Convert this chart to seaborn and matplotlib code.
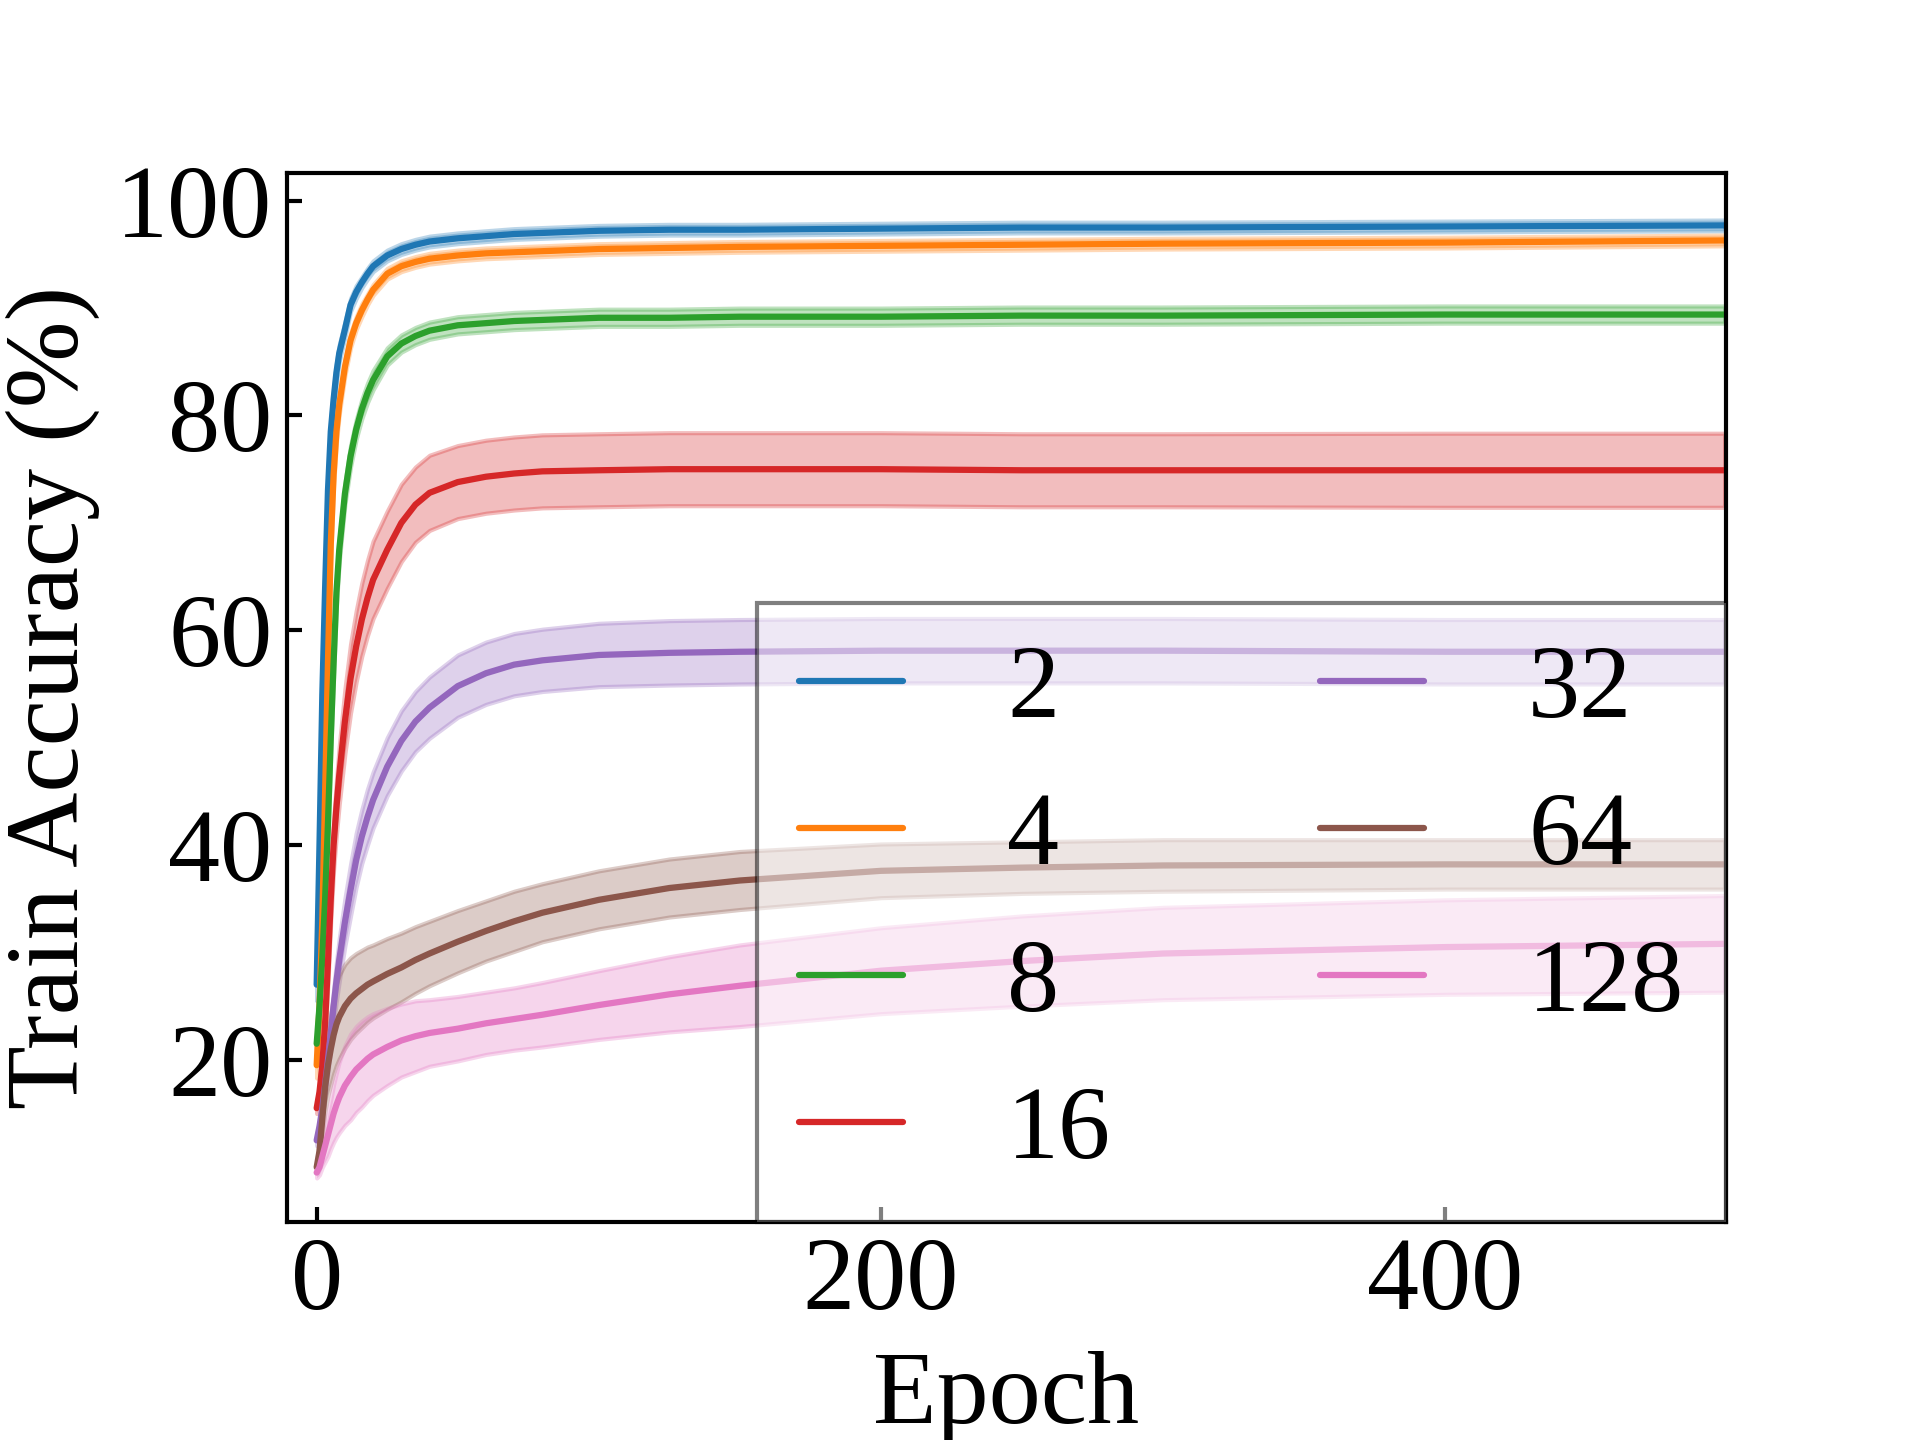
import matplotlib
matplotlib.use("Agg")
import matplotlib.pyplot as plt
import numpy as np
import seaborn as sns

epochs = [0, 1, 2, 3, 4, 5, 6, 7, 8, 10, 12, 14, 16, 18, 20, 25, 30, 35, 40,
          50, 60, 70, 80, 100, 125, 150, 200, 250, 300, 400, 499]

labels = ['2', '4', '8', '16', '32', '64', '128']

acc_2 = [27, 40, 54, 64, 73, 78.5, 81.5, 84, 85.8, 88, 90.3, 91.5, 92.4, 93.2, 93.9, 94.9, 95.5, 95.9, 96.2,
         96.5, 96.7, 96.9, 97.0, 97.2, 97.3, 97.3, 97.4, 97.5, 97.5, 97.6, 97.7]
std_2 = [1.5, 1.8, 2.0, 1.8, 1.5, 1.2, 1.0, 0.9, 0.8, 0.7, 0.6, 0.6, 0.5, 0.5, 0.5, 0.5, 0.5, 0.5, 0.5,
         0.5, 0.5, 0.5, 0.5, 0.5, 0.5, 0.5, 0.5, 0.5, 0.5, 0.5, 0.5]

acc_4 = [19.5, 25, 33, 45, 57, 68, 74.5, 78.5, 81, 84.5, 87, 88.6, 89.8, 90.8, 91.7, 93.2, 93.9, 94.3, 94.6,
         94.9, 95.1, 95.2, 95.3, 95.5, 95.6, 95.7, 95.8, 95.9, 96.0, 96.1, 96.3]
std_4 = [1.2, 1.5, 1.8, 1.8, 1.6, 1.3, 1.1, 1.0, 0.9, 0.8, 0.7, 0.6, 0.6, 0.5, 0.5, 0.5, 0.5, 0.5, 0.5,
         0.5, 0.5, 0.5, 0.5, 0.5, 0.5, 0.5, 0.5, 0.5, 0.5, 0.5, 0.5]

acc_8 = [21.5, 25, 29.5, 35, 42, 50, 57, 63.5, 67.5, 72.7, 76.2, 78.7, 80.6, 82.1, 83.3, 85.5, 86.7, 87.4, 87.9,
         88.4, 88.6, 88.8, 88.9, 89.1, 89.1, 89.2, 89.2, 89.3, 89.3, 89.4, 89.4]
std_8 = [1.0, 1.2, 1.4, 1.5, 1.5, 1.4, 1.3, 1.2, 1.1, 1.0, 1.0, 0.9, 0.9, 0.9, 0.9, 0.8, 0.8, 0.8, 0.8,
         0.8, 0.8, 0.8, 0.8, 0.8, 0.8, 0.8, 0.8, 0.8, 0.8, 0.8, 0.8]

acc_16 = [15.5, 17, 19.5, 23.5, 29, 35, 40, 43.5, 46.5, 51.5, 55.5, 58.5, 61, 63, 64.7, 67.5, 70, 71.7, 72.8,
          73.8, 74.3, 74.6, 74.8, 74.9, 75.0, 75.0, 75.0, 74.9, 74.9, 74.9, 74.9]
std_16 = [0.5, 0.8, 1.0, 1.5, 1.8, 2.0, 2.3, 2.5, 2.7, 3.0, 3.2, 3.3, 3.4, 3.5, 3.6, 3.6, 3.6, 3.5, 3.5,
          3.4, 3.4, 3.4, 3.4, 3.4, 3.4, 3.4, 3.4, 3.4, 3.4, 3.45, 3.45]

acc_32 = [12.5, 13.8, 15.5, 17.7, 20, 22.5, 25, 27.3, 29.3, 32.8, 35.8, 38.6, 40.8, 42.6, 44.2, 47.3, 49.7, 51.5, 52.8,
          54.8, 56.0, 56.8, 57.2, 57.7, 57.9, 58.0, 58.1, 58.1, 58.1, 58.0, 58.0]
std_32 = [0.5, 0.6, 0.8, 1.0, 1.2, 1.4, 1.6, 1.8, 2.0, 2.2, 2.4, 2.5, 2.5, 2.6, 2.6, 2.7, 2.8, 2.8, 2.85,
          2.9, 2.9, 2.9, 2.9, 2.95, 3.0, 3.0, 3.0, 3.0, 3.0, 3.0, 3.0]

acc_64 = [10, 11.5, 14.5, 17.5, 19.5, 21, 22.3, 23.3, 24, 25, 25.7, 26.2, 26.6, 27, 27.3, 28, 28.6, 29.3, 29.9,
          31, 32, 32.9, 33.7, 34.9, 36, 36.7, 37.6, 37.9, 38.1, 38.2, 38.2]
std_64 = [0.5, 1.0, 1.5, 2.2, 2.8, 3.3, 3.6, 3.8, 3.9, 3.9, 3.8, 3.7, 3.6, 3.5, 3.4, 3.3, 3.2, 3.1, 3.0,
          2.9, 2.8, 2.8, 2.7, 2.7, 2.7, 2.7, 2.5, 2.4, 2.4, 2.3, 2.3]

acc_128 = [9.5, 10, 11, 12, 13, 14, 15, 15.8, 16.5, 17.6, 18.4, 19.1, 19.6, 20.1, 20.5, 21.2, 21.8, 22.2, 22.5,
           22.9, 23.4, 23.8, 24.2, 25.1, 26.1, 26.9, 28.3, 29.2, 29.9, 30.5, 30.8]
std_128 = [0.5, 0.7, 1.0, 1.5, 2.0, 2.3, 2.7, 3.0, 3.3, 3.7, 4.0, 4.0, 4.0, 3.9, 3.8, 3.6, 3.4, 3.3, 3.1,
           3.0, 2.9, 2.9, 3.0, 3.2, 3.5, 3.8, 4.0, 4.2, 4.3, 4.4, 4.5]

means = [acc_2, acc_4, acc_8, acc_16, acc_32, acc_64, acc_128]
stds = [std_2, std_4, std_8, std_16, std_32, std_64, std_128]


def plot_accuracy():

    sns.set_style('ticks', {'axes.edgecolor': 'black', 'xtick.color': 'black', 'ytick.color': 'black',
                            'text.color': 'black', 'axes.labelcolor': 'black',
                            'xtick.direction': 'in', 'ytick.direction': 'in'})
    plt.rcParams['font.family'] = ['Liberation Serif', 'DejaVu Serif']

    colors = sns.color_palette('tab10', len(labels))

    fig, ax = plt.subplots(figsize=(6.4, 4.8), dpi=300)
    fig.subplots_adjust(left=0.1495, right=0.899, bottom=0.1514, top=0.880)

    x = np.array(epochs)
    for label, mean, std, color in zip(labels, means, stds, colors):
        mean = np.array(mean)
        std = np.array(std)
        ax.fill_between(x, mean - std, mean + std, color=color, alpha=0.3, linewidth=1)
        sns.lineplot(x=x, y=mean, color=color, linewidth=1.5, label=label, ax=ax)

    ax.set_xlim(-10.5, 499.5)
    ax.set_ylim(4.9, 102.6)
    ax.set_xticks([0, 200, 400])
    ax.set_yticks([20, 40, 60, 80, 100])
    ax.tick_params(labelsize=25, width=1, length=3.5, top=False, right=False)
    for spine in ax.spines.values():
        spine.set_linewidth(1)

    ax.set_xlabel('Epoch', fontsize=25, labelpad=5)
    ax.set_ylabel('Train Accuracy (%)', fontsize=25)

    ax.legend(ncol=2, loc='lower right', borderaxespad=0, fancybox=False, edgecolor='black',
              framealpha=0.5, fontsize=25, handlelength=1.0, handletextpad=1.0, columnspacing=2.0)

    fig.savefig('out.png', dpi=300)


if __name__ == '__main__':
    plot_accuracy()
